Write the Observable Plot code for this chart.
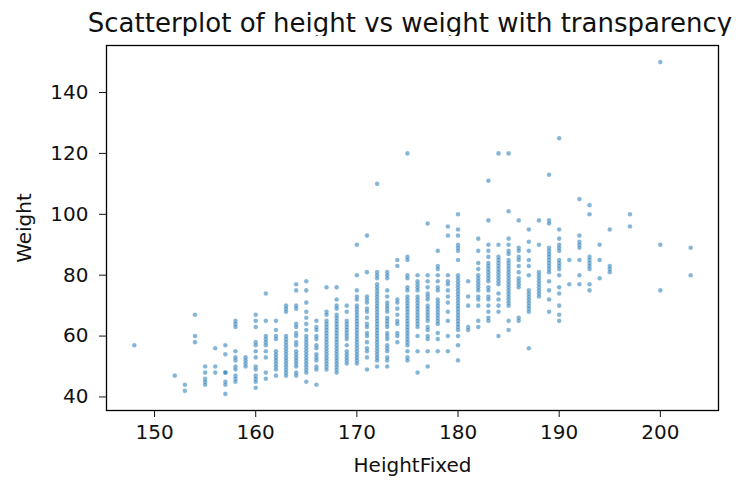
<!DOCTYPE html>
<html>
<head>
<meta charset="utf-8">
<script src="https://cdn.jsdelivr.net/npm/d3@7"></script>
<script src="https://cdn.jsdelivr.net/npm/@observablehq/plot@0.6"></script>
<style>
  html, body { margin: 0; padding: 0; background: #fff; }
  #wrap { position: relative; width: 738px; height: 480px; font-family: "DejaVu Sans", sans-serif; overflow: hidden; }
  #title { position: absolute; top: 10px; left: 410px; transform: translateX(-50%); font-size: 26px; line-height: 26px; color: #111; white-space: nowrap; }
  #chart { position: absolute; top: 36px; left: 0; }
</style>
</head>
<body>
<div id="wrap">
  <div id="title"></div>
  <div id="chart"></div>
</div>
<script>
const titleText = "Scatterplot of height vs weight with transparency";
const xLabel = "HeightFixed";
const yLabel = "Weight";
const xTicks = [150, 160, 170, 180, 190, 200];
const yTicks = [40, 60, 80, 100, 120, 140];

const heights = [148, 152, 153, 154, 155, 156, 157, 158, 159, 160, 161, 162, 163, 164, 165, 166, 167, 168, 169, 170,
  171, 172, 173, 174, 175, 176, 177, 178, 179, 180, 181, 182, 183, 184, 185, 186, 187, 188, 189, 190,
  191, 192, 193, 194, 195, 197, 200, 203];

const weightsByHeight = [
  [57],
  [47],
  [44, 42],
  [67, 60, 58],
  [50, 48, 46, 45, 44],
  [56, 50, 48],
  [57, 54, 48, 48, 45, 44, 41],
  [65, 64, 63, 55, 53, 52, 50, 49, 47, 46, 45],
  [53, 52, 51, 50],
  [67, 65, 63, 58, 57, 55, 53, 50, 49, 47, 46, 45, 43],
  [74, 65, 60, 59, 58, 57, 55, 53, 48, 46],
  [65, 62, 60, 59, 55, 54, 53, 52, 51, 50, 49, 47],
  [70, 69, 68, 60, 59, 58, 57, 56, 55, 54, 53, 52, 51, 50, 49, 48, 47],
  [77, 75, 70, 69, 64, 63, 61, 60, 58, 57, 55, 54, 53, 52, 51, 50, 48, 47],
  [78, 75, 71, 68, 66, 64, 62, 60, 59, 58, 57, 56, 55, 54, 53, 52, 51, 50, 49, 48, 45],
  [65, 63, 62, 60, 59, 57, 56, 54, 53, 52, 50, 49, 44],
  [76, 68, 67, 65, 64, 63, 62, 61, 60, 59, 58, 57, 56, 55, 54, 53, 52, 51, 50, 49],
  [76, 72, 70, 69, 67, 66, 65, 64, 63, 62, 61, 60, 59, 58, 57, 56, 55, 54, 53, 52, 51, 50, 49, 48],
  [70, 68, 65, 64, 63, 62, 61, 60, 59, 57, 55, 54, 53, 52, 51],
  [90, 80, 75, 73, 72, 70, 69, 68, 67, 66, 65, 64, 63, 62, 61, 60, 59, 58, 57, 56, 55, 54, 53, 52, 51],
  [93, 81, 73, 72, 71, 69, 68, 66, 64, 63, 61, 60, 58, 56, 55, 53, 49],
  [110, 81, 80, 79, 77, 76, 75, 74, 73, 72, 71, 70, 69, 68, 67, 66, 65, 64, 63, 62, 61, 60, 59, 58, 57, 56, 55, 54, 53, 52, 50],
  [81, 80, 79, 75, 73, 71, 70, 69, 68, 66, 65, 64, 63, 61, 60, 59, 57, 56, 55, 53, 52, 50],
  [85, 83, 72, 71, 69, 67, 65, 64, 61, 60, 58],
  [120, 86, 85, 80, 79, 76, 75, 73, 72, 71, 70, 69, 68, 67, 66, 65, 64, 63, 62, 61, 60, 59, 58, 57, 55, 53, 52],
  [80, 78, 77, 76, 75, 73, 72, 71, 70, 69, 68, 67, 66, 65, 64, 63, 60, 55, 48],
  [97, 80, 78, 76, 74, 73, 72, 70, 69, 68, 67, 66, 65, 63, 62, 60, 59, 55, 50],
  [88, 83, 82, 80, 78, 76, 75, 72, 71, 70, 69, 68, 67, 66, 65, 64, 61, 59, 55],
  [96, 93, 80, 78, 77, 75, 73, 71, 68, 65, 60, 55],
  [100, 95, 93, 90, 89, 88, 85, 80, 79, 78, 77, 76, 75, 74, 73, 72, 71, 70, 69, 68, 67, 66, 65, 64, 63, 62, 60, 57, 52],
  [78, 73, 70, 63, 62],
  [92, 88, 84, 82, 80, 79, 78, 77, 76, 75, 73, 72, 70, 65, 63],
  [111, 98, 90, 88, 86, 84, 83, 82, 81, 80, 79, 78, 76, 75, 73, 72, 70, 68, 66, 65],
  [120, 90, 86, 85, 84, 83, 82, 81, 80, 79, 78, 77, 74, 72, 70, 68, 60],
  [120, 101, 92, 90, 88, 87, 85, 84, 83, 82, 81, 80, 79, 78, 77, 76, 75, 74, 73, 72, 71, 70, 65, 62],
  [98, 89, 88, 86, 85, 83, 81, 79, 78, 77, 76, 66, 65],
  [95, 91, 88, 85, 83, 80, 75, 74, 73, 72, 71, 70, 69, 68, 56],
  [98, 90, 81, 80, 79, 78, 77, 76, 75, 74, 73],
  [113, 98, 97, 89, 88, 87, 86, 85, 84, 83, 82, 81, 78, 75, 72, 68],
  [125, 95, 92, 90, 89, 88, 85, 84, 83, 82, 80, 76, 74, 70, 67, 65],
  [85, 77],
  [105, 93, 91, 90, 89, 85, 80, 77],
  [103, 100, 86, 85, 84, 83, 82, 77, 75],
  [90, 85, 79],
  [95, 83, 82, 81],
  [100, 96],
  [150, 90, 75],
  [89, 80]
];

const data = heights.flatMap((h, i) => weightsByHeight[i].map(w => ({HeightFixed: h, Weight: w})));

document.getElementById("title").textContent = titleText;

const xs = data.map(d => d.HeightFixed), ys = data.map(d => d.Weight);
const xMin = d3.min(xs), xMax = d3.max(xs), yMin = d3.min(ys), yMax = d3.max(ys);
const xPad = (xMax - xMin) * 0.05, yPad = (yMax - yMin) * 0.05;

const chart = Plot.plot({
  width: 738,
  height: 444,
  marginLeft: 106,
  marginRight: 20,
  marginTop: 9,
  marginBottom: 70,
  style: {fontFamily: "DejaVu Sans, sans-serif", fontSize: "20px", color: "#111", background: "#fff"},
  x: {domain: [xMin - xPad, xMax + xPad], ticks: xTicks},
  y: {domain: [yMin - yPad, yMax + yPad], ticks: yTicks},
  marks: [
    Plot.dot(data, {x: "HeightFixed", y: "Weight", r: 2.3, fill: "#1f77b4", fillOpacity: 0.55, stroke: "#fff", strokeWidth: 0.3, strokeOpacity: 0.5}),
    Plot.frame({stroke: "#000", strokeWidth: 1.3}),
    Plot.axisX({ticks: xTicks, tickSize: 7, tickPadding: 7, label: xLabel, labelAnchor: "center", labelArrow: "none", labelOffset: 61, fontSize: 20}),
    Plot.axisY({ticks: yTicks, tickSize: 7, tickPadding: 11, label: yLabel, labelAnchor: "center", labelArrow: "none", labelOffset: 90, fontSize: 20})
  ]
});
document.getElementById("chart").appendChild(chart);
</script>
</body>
</html>
